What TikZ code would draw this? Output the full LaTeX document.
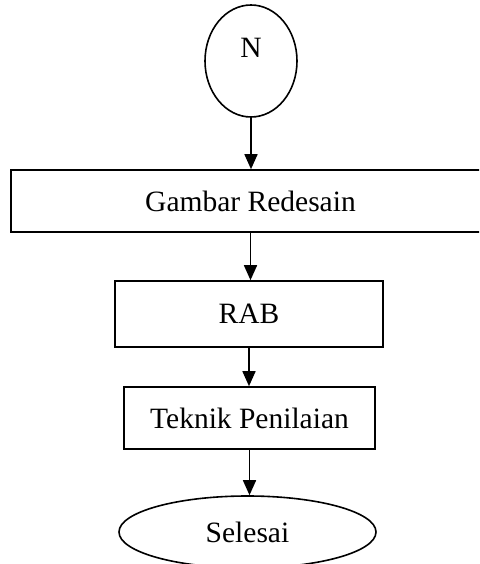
\documentclass[tikz,border=0pt]{standalone}
\usepackage{fontspec}
\setmainfont{Liberation Serif}
\usetikzlibrary{shapes.geometric,arrows.meta}
\begin{document}
\begin{tikzpicture}[x=1pt,y=-1pt,
  box/.style={draw,line width=1.6pt,rectangle,inner sep=0pt,font=\fontsize{29.5}{35}\selectfont},
  oval/.style={draw,line width=1.6pt,ellipse,inner sep=0pt,font=\fontsize{29.5}{35}\selectfont},
  txt/.style={inner sep=0pt,font=\fontsize{29.5}{35}\selectfont},
  flow/.style={line width=1.6pt,-{Triangle[length=15pt,width=13pt]}}]
\clip (0,0) rectangle (479,564);
\node[oval,minimum width=92pt,minimum height=112pt] (n) at (251,61) {};
\node[txt] (nt) at (251,48) {N};
\node[box,minimum width=479pt,minimum height=62pt] (r1) at (250.5,201) {Gambar Redesain};
\node[box,minimum width=268pt,minimum height=66pt] (r2) at (249,314) {RAB};
\node[box,minimum width=251pt,minimum height=62pt] (r3) at (249.5,418) {Teknik Penilaian};
\node[oval,minimum width=257pt,minimum height=72pt] (s) at (247.5,532) {Selesai};
\draw[flow] (n.south) -- (n.south |- r1.north);
\draw[flow] (r1.south) -- (r1.south |- r2.north);
\draw[flow] (r2.south) -- (r2.south |- r3.north);
\draw[flow] (r3.south) -- (r3.south |- s.north);
\end{tikzpicture}
\end{document}
